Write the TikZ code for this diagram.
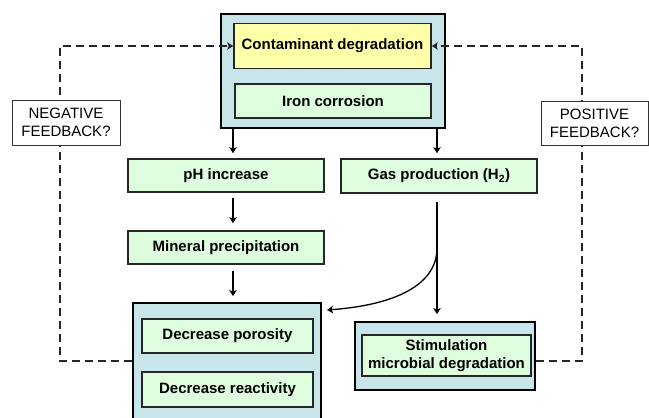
\documentclass[tikz,border=0pt]{standalone}
\usepackage{fontspec}
\setmainfont{Liberation Sans}
\usetikzlibrary{arrows.meta}
\definecolor{outerc}{RGB}{200,229,233}
\definecolor{greenc}{RGB}{222,253,222}
\definecolor{yellowc}{RGB}{255,255,170}
\begin{document}
\begin{tikzpicture}[x=1pt,y=-1pt,
  outer/.style={draw=black, line width=1.8pt, fill=outerc, inner sep=0pt},
  inner/.style={draw=black!85, line width=1.6pt, fill=greenc, inner sep=0pt,
    align=center, font=\fontsize{15}{18}\selectfont\bfseries},
  fb/.style={draw=black!80, line width=0.8pt, fill=white, inner sep=0pt,
    align=center, font=\fontsize{15}{18}\selectfont},
  arr/.style={line width=1.3pt, -{Stealth[length=6pt,width=7.5pt,inset=1.5pt]}},
  dashln/.style={line width=1.4pt, draw=black!85, dash pattern=on 8pt off 5pt,
    -{Stealth[length=6pt,width=7.5pt,inset=1.5pt]}}]
\useasboundingbox (0,0) rectangle (649,418);

% boxes
\node[outer, minimum width=224pt, minimum height=114pt] (top) at (333,71) {};
\node[inner, fill=yellowc, minimum width=197pt, minimum height=45pt] (contam) at (332.5,46) {Contaminant degradation};
\node[inner, minimum width=196pt, minimum height=34pt] (iron) at (333,101) {Iron corrosion};
\node[inner, minimum width=196pt, minimum height=33pt] (ph) at (226,175.5) {pH increase};
\node[inner, minimum width=196pt, minimum height=33pt] (mineral) at (226,247.5) {Mineral precipitation};
\node[inner, minimum width=196pt, minimum height=34pt] (gas) at (439,176) {Gas production (H\textsubscript{2})};
\node[outer, minimum width=188pt, minimum height=130pt] (bot) at (227,368) {};
\node[inner, minimum width=171pt, minimum height=34pt] (poros) at (227.5,336) {Decrease porosity};
\node[inner, minimum width=171pt, minimum height=35pt] (react) at (227.5,389.5) {Decrease reactivity};
\node[outer, minimum width=180pt, minimum height=68pt] (stimo) at (445,356) {};
\node[inner, minimum width=169pt, minimum height=41pt] (stim) at (446.5,355.5) {Stimulation\\microbial degradation};

% lanes and helper coordinates
\coordinate (laneL) at (233,0);
\coordinate (laneR) at (437,0);
\coordinate (fbL) at (60,361);
\coordinate (fbR) at (582,361);
\coordinate (branch) at (437,248);
\coordinate (tipL) at (327,310);

% feedback loops
\draw[dashln] (bot.west |- fbL) -- (fbL) -- (fbL |- contam.west) -- (contam.west);
\draw[dashln] (stimo.east |- fbR) -- (fbR) -- (fbR |- contam.east) -- (contam.east);
\node[fb, minimum width=108pt, minimum height=45pt] (neg) at (66,122.5) {NEGATIVE\\FEEDBACK?};
\node[fb, minimum width=107pt, minimum height=44pt] (pos) at (594.5,123) {POSITIVE\\FEEDBACK?};

% solid arrows
\draw[arr, shorten >=5pt] (top.south -| laneL) -- (ph.north -| laneL);
\draw[arr, shorten >=5pt] (top.south -| laneR) -- (gas.north -| laneR);
\draw[arr, shorten <=5pt, shorten >=7pt] (ph.south -| laneL) -- (mineral.north -| laneL);
\draw[arr, shorten <=6pt, shorten >=6pt] (mineral.south -| laneL) -- (bot.north -| laneL);
\draw[arr, shorten <=8pt, shorten >=7pt] (gas.south -| laneR) -- (stimo.north -| laneR);
\draw[arr] (branch) .. controls +(0,37) and +(68,-5) .. (tipL);
\end{tikzpicture}
\end{document}
